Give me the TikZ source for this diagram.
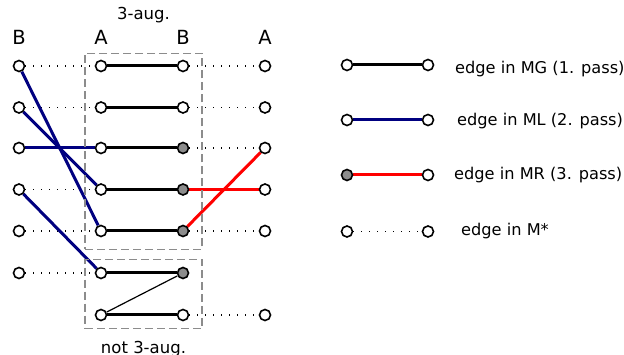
\documentclass[tikz,border=0pt]{standalone}
\usepackage{fontspec}
\setmainfont{DejaVu Sans}
\pgfdeclarelayer{bg}
\pgfsetlayers{bg,main}
\definecolor{mlblue}{RGB}{0,0,128}
\definecolor{mrred}{RGB}{255,0,0}
\definecolor{vgray}{RGB}{140,140,140}
\begin{document}
\begin{tikzpicture}[x=1pt,y=-1pt,
  vtx/.style={circle,draw=black,fill=white,line width=1.6pt,minimum size=11pt,inner sep=0pt},
  gvtx/.style={vtx,fill=vgray},
  mg/.style={line width=3pt,black},
  ml/.style={line width=3pt,mlblue},
  mr/.style={line width=3pt,mrred},
  thinedge/.style={line width=1.2pt,black},
  mstar/.style={line width=1.1pt,black,dash pattern=on 1.1pt off 6.9pt},
  augbox/.style={draw=vgray,line width=1.4pt,dash pattern=on 8pt off 4pt},
  colhead/.style={font=\fontsize{19.5}{21}\selectfont,anchor=center},
  boxlabel/.style={font=\fontsize{16.5}{18}\selectfont,anchor=base,inner sep=0pt},
  legtext/.style={font=\fontsize{16.2}{18}\selectfont,anchor=base west,inner sep=0pt}]
\useasboundingbox (0,0) rectangle (624,355);
% column headers
\node[colhead] (hB1) at (19,37.3) {B};
\node[colhead] (hA1) at (101,37.3) {A};
\node[colhead] (hB2) at (183,37.3) {B};
\node[colhead] (hA2) at (265,37.3) {A};
\node[boxlabel] (t3) at (143.5,19.5) {3-aug.};
\node[boxlabel] (tn3) at (143.5,353) {not 3-aug.};
% boxes
\node[augbox,minimum width=117pt,minimum height=196pt,inner sep=0pt] (box1) at (143.5,151.3) {};
\node[augbox,minimum width=117pt,minimum height=69.5pt,inner sep=0pt] (box2) at (143.5,294) {};
% vertices column 1 (B)
\foreach \i/\y in {1/66,2/107.5,3/148,4/189.5,5/231,6/273}
  \node[vtx] (a\i) at (19,\y) {};
% column 2 (A)
\foreach \i/\y in {1/66,2/107.5,3/148,4/189.5,5/231,6/273,7/315}
  \node[vtx] (b\i) at (101,\y) {};
% column 3 (B)
\node[vtx] (c1) at (183,66) {};
\node[vtx] (c2) at (183,107.5) {};
\node[gvtx] (c3) at (183,148) {};
\node[gvtx] (c4) at (183,189.5) {};
\node[gvtx] (c5) at (183,231) {};
\node[gvtx] (c6) at (183,273) {};
\node[vtx] (c7) at (183,315) {};
% column 4 (A)
\foreach \i/\y in {1/66,2/107.5,3/148,4/189.5,5/231,7/315}
  \node[vtx] (d\i) at (265,\y) {};
\begin{pgfonlayer}{bg}
% M* edges
\foreach \i in {1,...,6} \draw[mstar] (a\i) -- (b\i);
\foreach \i in {1,2,3,5,7} \draw[mstar] (c\i) -- (d\i);
% MG edges
\foreach \i in {1,...,7} \draw[mg] (b\i) -- (c\i);
\draw[thinedge] (b7) -- (c6);
% ML edges
\draw[ml] (a1) -- (b5);
\draw[ml] (a2) -- (b4);
\draw[ml] (a3) -- (b3);
\draw[ml] (a4) -- (b6);
% MR edges
\draw[mr] (c4) -- (d4);
\draw[mr] (c5) -- (d3);
\end{pgfonlayer}
% legend
\node[vtx] (l1a) at (347,65) {};
\node[vtx] (l1b) at (428,65) {};
\node[vtx] (l2a) at (347,120) {};
\node[vtx] (l2b) at (428,120) {};
\node[gvtx] (l3a) at (347,175) {};
\node[vtx] (l3b) at (428,175) {};
\node[vtx] (l4a) at (347,231.5) {};
\node[vtx] (l4b) at (428,231.5) {};
\begin{pgfonlayer}{bg}
\draw[mg] (l1a) -- (l1b);
\draw[ml] (l2a) -- (l2b);
\draw[mr] (l3a) -- (l3b);
\draw[mstar] (l4a) -- (l4b);
\end{pgfonlayer}
\node[legtext] (lt1) at (455,73.3) {edge in MG (1. pass)};
\node[legtext] (lt2) at (457,126) {edge in ML (2. pass)};
\node[legtext] (lt3) at (454,179.5) {edge in MR (3. pass)};
\node[legtext] (lt4) at (461,235.5) {edge in M*};
\end{tikzpicture}
\end{document}
